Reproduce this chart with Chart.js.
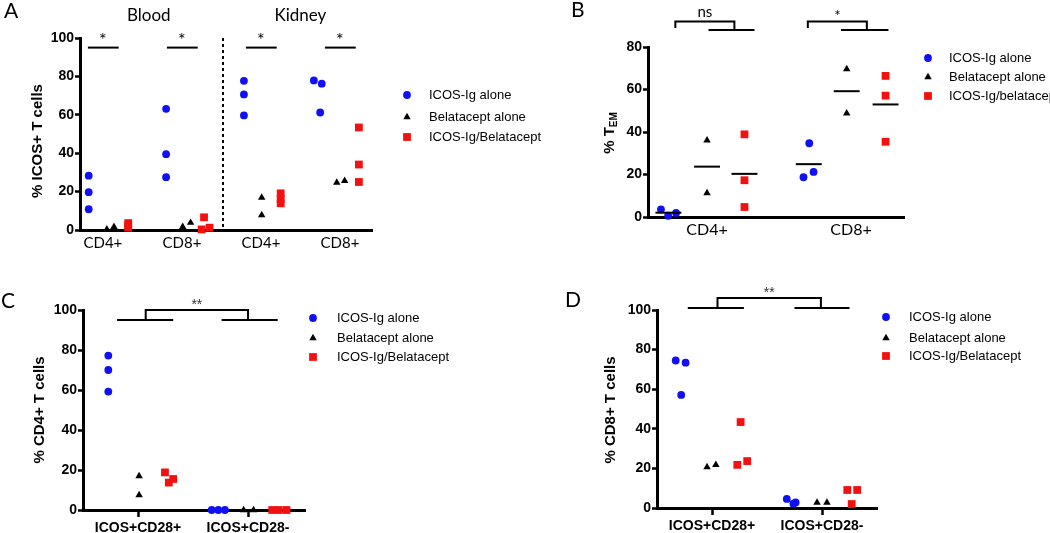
<!DOCTYPE html>
<html>
<head>
<meta charset="utf-8">
<script src="https://cdn.jsdelivr.net/npm/chart.js@4.4.1/dist/chart.umd.min.js"></script>
<style>
  html, body { margin: 0; padding: 0; background: #fff; }
  #wrap { position: relative; width: 1050px; height: 533px; overflow: hidden; }
  canvas { position: absolute; }
</style>
</head>
<body>
<div id="wrap">
  <canvas id="chartB" width="510" height="266" style="left:540px;top:0"></canvas>
  <canvas id="chartA" width="560" height="266" style="left:0;top:0"></canvas>
  <canvas id="chartC" width="540" height="267" style="left:0;top:266px"></canvas>
  <canvas id="chartD" width="510" height="267" style="left:540px;top:266px"></canvas>
</div>
<script>
'use strict';

/* ── Data ────────────────────────────────────────────── */

var groupNames  = ['ICOS-Ig alone', 'Belatacept alone', 'ICOS-Ig/Belatacept'];
var groupNamesB = ['ICOS-Ig alone', 'Belatacept alone', 'ICOS-Ig/belatacept'];

/* A: % ICOS+ T cells — Blood CD4+, Blood CD8+, Kidney CD4+, Kidney CD8+ */
var catsA     = ['CD4+', 'CD8+', 'CD4+', 'CD8+'];
var sectionsA = ['Blood', 'Kidney'];
var icosA     = [[28.3, 19.7, 10.8], [63.1, 39.5, 27.5], [77.7, 70.6, 59.7], [77.9, 76.2, 61.2]];
var belaA     = [[0.3, 1.7], [1.7, 3.8], [16.9, 7.8], [24.7, 25.6]];
var comboA    = [[3.6, 2.4, 1.3], [6.6, 0.3, 1.2], [19.1, 16.2, 13.9], [53.4, 34.1, 25.0]];
var icosJitA  = [[0.02, 0.02, 0.02], [0, 0, 0], [-0.015, -0.015, -0.015], [-0.13, -0.03, -0.05]];
var belaJitA  = [[0, 0.09], [-0.04, 0.06], [-0.04, -0.04], [-0.09, 0.01]];
var comboJitA = [[0.04, 0.04, 0.04], [0, -0.03, 0.07], [-0.03, -0.03, -0.03], [-0.04, -0.04, -0.04]];
var sigA      = ['*', '*', '*', '*'];
var yTicksA   = [0, 20, 40, 60, 80, 100];

/* B: % TEM with group means */
var catsB     = ['CD4+', 'CD8+'];
var icosB     = [[3.6, 0.6, 1.9], [34.7, 18.7, 21.2]];
var belaB     = [[36.1, 11.3], [69.6, 48.8]];
var comboB    = [[38.9, 17.3, 4.7], [66.4, 57.1, 35.4]];
var icosJitB  = [[-0.05, 0, 0.055], [-0.02, -0.06, 0.01]];
var belaJitB  = [[0, 0], [-0.03, -0.03]];
var comboJitB = [[0, 0, 0], [-0.02, -0.02, -0.02]];
var sigB      = ['ns', '*'];
var yTicksB   = [0, 20, 40, 60, 80];

/* C: % CD4+ T cells */
var catsC     = ['ICOS+CD28+', 'ICOS+CD28-'];
var icosC     = [[77.2, 70.0, 59.2], [0, 0, 0]];
var belaC     = [[17.0, 7.5], [0, 0]];
var comboC    = [[18.8, 15.5, 13.7], [0, 0, 0]];
var icosJitC  = [[0, 0, 0], [-0.06, 0, 0.06]];
var belaJitC  = [[0.01, 0.01], [-0.04, 0.05]];
var comboJitC = [[-0.035, 0.04, 0], [-0.06, 0, 0.07]];
var sigC      = '**';

/* D: % CD8+ T cells */
var catsD     = ['ICOS+CD28+', 'ICOS+CD28-'];
var icosD     = [[74.5, 73.4, 57.1], [4.6, 2.2, 2.8]];
var belaD     = [[20.7, 21.8], [2.7, 2.7]];
var comboD    = [[21.8, 23.7, 43.4], [9.1, 9.1, 2.0]];
var icosJitD  = [[-0.05, 0.04, 0], [-0.04, 0.02, 0.04]];
var belaJitD  = [[-0.045, 0.035], [-0.045, 0.045]];
var comboJitD = [[-0.04, 0.05, -0.01], [-0.04, 0.05, 0]];
var sigD      = '**';
var yTicksCD  = [0, 20, 40, 60, 80, 100];

/* ── Styles ──────────────────────────────────────────── */

var COLORS = ['#1010f2', '#000000', '#f21010'];
var SHAPES = ['circle', 'triangle', 'rect'];
var RADII  = [3.9, 4.3, 5.5];

var TICK_FONT  = { family: '"Liberation Sans", Arial', weight: 'bold', size: 14 };
var CAT_BOLD   = { family: '"Liberation Sans", Arial', weight: 'bold', size: 14 };
var CAT_LIGHT  = { family: 'Lato', weight: 'normal', size: 15 };
var CAT_LIGHTB = { family: 'Lato', weight: 'normal', size: 16 };

/* ── Helpers ─────────────────────────────────────────── */

function mean(a) {
  return a.reduce(function (s, v) { return s + v; }, 0) / a.length;
}

function buildSets(values, jitter, offsets) {
  return values.map(function (groupVals, g) {
    var pts = [];
    groupVals.forEach(function (catVals, c) {
      catVals.forEach(function (v, k) {
        pts.push({ x: c + offsets[g] + jitter[g][c][k], y: v });
      });
    });
    return {
      label: groupNames[g],
      data: pts,
      showLine: false,
      clip: false,
      pointStyle: SHAPES[g],
      pointRadius: RADII[g],
      pointHoverRadius: RADII[g],
      pointBackgroundColor: COLORS[g],
      pointBorderWidth: 0,
      pointHoverBorderWidth: 0
    };
  });
}

function marker(ctx, g, x, y) {
  var r = RADII[g];
  ctx.save();
  ctx.fillStyle = COLORS[g];
  ctx.beginPath();
  if (SHAPES[g] === 'circle') {
    ctx.arc(x, y, r, 0, Math.PI * 2);
  } else if (SHAPES[g] === 'triangle') {
    ctx.moveTo(x, y - r);
    ctx.lineTo(x + r * 0.866, y + r / 2);
    ctx.lineTo(x - r * 0.866, y + r / 2);
    ctx.closePath();
  } else {
    var s = r * Math.SQRT1_2;
    ctx.rect(x - s, y - s, 2 * s, 2 * s);
  }
  ctx.fill();
  ctx.restore();
}

function path(ctx, pts, w, dash) {
  ctx.save();
  ctx.strokeStyle = '#000';
  ctx.lineWidth = w;
  ctx.lineCap = 'butt';
  if (dash) ctx.setLineDash(dash);
  ctx.beginPath();
  pts.forEach(function (p, i) { if (i) ctx.lineTo(p[0], p[1]); else ctx.moveTo(p[0], p[1]); });
  ctx.stroke();
  ctx.restore();
}

function text(ctx, str, x, y, font, align, color) {
  ctx.save();
  ctx.font = font;
  ctx.fillStyle = color || '#000';
  ctx.textAlign = align || 'center';
  ctx.textBaseline = 'alphabetic';
  ctx.fillText(str, x, y);
  ctx.restore();
}

function yTitle(ctx, str, sub, x, y) {
  var big = 'bold 15px "Liberation Sans", Arial, sans-serif';
  var small = 'bold 10px "Liberation Sans", Arial, sans-serif';
  ctx.save();
  ctx.translate(x, y);
  ctx.rotate(-Math.PI / 2);
  ctx.fillStyle = '#000';
  ctx.textBaseline = 'middle';
  ctx.textAlign = 'left';
  ctx.font = big;
  var w1 = ctx.measureText(str).width;
  var w2 = 0;
  if (sub) {
    ctx.font = small;
    w2 = ctx.measureText(sub).width;
  }
  var x0 = -(w1 + w2) / 2;
  ctx.font = big;
  ctx.fillText(str, x0, 0);
  if (sub) {
    ctx.font = small;
    ctx.fillText(sub, x0 + w1, 4);
  }
  ctx.restore();
}

function legend(ctx, names, mx, tx, rows) {
  names.forEach(function (n, g) {
    marker(ctx, g, mx, rows[g]);
    ctx.save();
    ctx.font = '13px "Liberation Sans", Arial, sans-serif';
    ctx.fillStyle = '#000';
    ctx.textBaseline = 'middle';
    ctx.textAlign = 'left';
    ctx.fillText(n, tx, rows[g] + 0.5);
    ctx.restore();
  });
}

/* ── Panel factory ───────────────────────────────────── */

function makePanel(p) {
  var canvas = document.getElementById(p.id);
  var W = canvas.width, H = canvas.height;
  return new Chart(canvas, {
    type: 'scatter',
    data: { datasets: buildSets(p.values, p.jitter, p.offsets) },
    options: {
      responsive: false,
      animation: false,
      devicePixelRatio: 1,
      layout: { padding: { left: 0, top: p.area.top, right: W - p.area.right, bottom: 0 } },
      events: [],
      plugins: { legend: { display: false }, tooltip: { enabled: false } },
      scales: {
        x: {
          type: 'linear',
          min: p.xMin,
          max: p.xMax,
          afterBuildTicks: function (s) {
            s.ticks = p.cats.map(function (c, i) { return { value: i }; });
          },
          afterFit: function (s) { s.height = H - p.area.bottom; },
          ticks: {
            autoSkip: false,
            maxRotation: 0,
            padding: p.xPad,
            color: '#000',
            font: p.xFont,
            callback: function (v) { return p.cats[v]; }
          },
          grid: { drawOnChartArea: false, drawTicks: p.xTickMarks, tickLength: 7, tickWidth: 2.5, color: '#000' },
          border: { display: true, color: '#000', width: 3 }
        },
        y: {
          min: 0,
          max: p.yTicks[p.yTicks.length - 1],
          afterBuildTicks: function (s) {
            s.ticks = p.yTicks.map(function (v) { return { value: v }; });
          },
          afterFit: function (s) { s.width = p.area.left; },
          ticks: { padding: 1, color: '#000', font: TICK_FONT, callback: function (v) { return String(v); } },
          grid: { drawOnChartArea: false, drawTicks: true, tickLength: 5, tickWidth: 2.5, color: '#000' },
          border: { display: true, color: '#000', width: 3 }
        }
      }
    },
    plugins: [{
      id: 'extras',
      afterDraw: function (chart) {
        var ctx = chart.ctx;
        var X = function (v) { return chart.scales.x.getPixelForValue(v); };
        var Y = function (v) { return chart.scales.y.getPixelForValue(v); };
        p.draw(ctx, X, Y, chart);
      }
    }]
  });
}

/* ── A ───────────────────────────────────────────────── */

makePanel({
  id: 'chartA',
  area: { left: 80, right: 372, top: 38, bottom: 230 },
  cats: catsA, xMin: -0.29, xMax: 3.406, xPad: 4, xFont: CAT_LIGHT, xTickMarks: false,
  yTicks: yTicksA,
  values: [icosA, belaA, comboA],
  jitter: [icosJitA, belaJitA, comboJitA],
  offsets: [-0.2, 0.05, 0.28],
  draw: function (ctx, X, Y) {
    text(ctx, 'A', 4, 18, '21px Lato, sans-serif', 'left');
    text(ctx, sectionsA[0], X(0.58), 21, '17px Lato, sans-serif');
    text(ctx, sectionsA[1], X(2.5), 21, '17px Lato, sans-serif');
    path(ctx, [[X(1.52), Y(100)], [X(1.52), Y(0)]], 2, [3, 3]);
    sigA.forEach(function (s, c) {
      path(ctx, [[X(c - 0.19), Y(95)], [X(c + 0.2), Y(95)]], 2);
      text(ctx, s, X(c), Y(95) - 2, '18px Lato, sans-serif');
    });
    yTitle(ctx, '% ICOS+ T cells', null, 38, 141);
    legend(ctx, groupNames, 407, 429, [95, 117, 137]);
  }
});

/* ── B ───────────────────────────────────────────────── */

makePanel({
  id: 'chartB',
  area: { left: 108, right: 364, top: 47, bottom: 217 },
  cats: catsB, xMin: -0.41, xMax: 1.368, xPad: 3, xFont: CAT_LIGHTB, xTickMarks: false,
  yTicks: yTicksB,
  values: [icosB, belaB, comboB],
  jitter: [icosJitB, belaJitB, comboJitB],
  offsets: [-0.27, 0, 0.26],
  draw: function (ctx, X, Y) {
    var offsets = [-0.27, 0, 0.26];
    [icosB, belaB, comboB].forEach(function (groupVals, g) {
      var jit = [icosJitB, belaJitB, comboJitB][g];
      groupVals.forEach(function (vals, c) {
        var cx = c + offsets[g] + mean(jit[c]);
        var m = mean(vals);
        path(ctx, [[X(cx - 0.09), Y(m)], [X(cx + 0.09), Y(m)]], 2);
      });
    });
    /* brackets: left leg, top-right corner, lower bar */
    var br = [[-0.22, 0.19, 0.01, 0.33], [-0.3, 0.11, -0.07, 0.26]];
    br.forEach(function (b, c) {
      path(ctx, [[X(c + b[0]), Y(89)], [X(c + b[0]), Y(92)], [X(c + b[1]), Y(92)], [X(c + b[1]), Y(88)]], 2);
      path(ctx, [[X(c + b[2]), Y(88)], [X(c + b[3]), Y(88)]], 2);
      text(ctx, sigB[c], X(c + (b[0] + b[1]) / 2), c === 0 ? Y(94) : Y(92.3), '15px Lato, sans-serif');
    });
    text(ctx, 'B', 31, 17, '21px Lato, sans-serif', 'left');
    yTitle(ctx, '% T', 'EM', 70, 133);
    legend(ctx, groupNamesB, 388, 409, [58, 77, 96]);
  }
});

/* ── C ───────────────────────────────────────────────── */

makePanel({
  id: 'chartC',
  area: { left: 83, right: 305, top: 44, bottom: 244 },
  cats: catsC, xMin: -0.5, xMax: 1.518, xPad: 3, xFont: CAT_BOLD, xTickMarks: true,
  yTicks: yTicksCD,
  values: [icosC, belaC, comboC],
  jitter: [icosJitC, belaJitC, comboJitC],
  offsets: [-0.27, 0, 0.28],
  draw: function (ctx, X, Y) {
    path(ctx, [[X(0.07), Y(95)], [X(0.07), Y(100)], [X(1.0), Y(100)], [X(1.0), Y(95)]], 2);
    path(ctx, [[X(-0.19), Y(95)], [X(0.32), Y(95)]], 2);
    path(ctx, [[X(0.76), Y(95)], [X(1.27), Y(95)]], 2);
    text(ctx, sigC, X(0.535), Y(100) - 1, '14px "Liberation Sans", Arial, sans-serif', 'center', '#333');
    text(ctx, 'C', 1, 42, '21px Lato, sans-serif', 'left');
    yTitle(ctx, '% CD4+ T cells', null, 40, 144);
    legend(ctx, groupNames, 313, 337, [52, 72, 91]);
  }
});

/* ── D ───────────────────────────────────────────────── */

makePanel({
  id: 'chartD',
  area: { left: 117, right: 337, top: 44, bottom: 242 },
  cats: catsD, xMin: -0.5, xMax: 1.5, xPad: 3, xFont: CAT_BOLD, xTickMarks: true,
  yTicks: yTicksCD,
  values: [icosD, belaD, comboD],
  jitter: [icosJitD, belaJitD, comboJitD],
  offsets: [-0.28, 0, 0.27],
  draw: function (ctx, X, Y) {
    path(ctx, [[X(0.05), Y(101)], [X(0.05), Y(106)], [X(0.99), Y(106)], [X(0.99), Y(101)]], 2);
    path(ctx, [[X(-0.22), Y(101)], [X(0.29), Y(101)]], 2);
    path(ctx, [[X(0.75), Y(101)], [X(1.25), Y(101)]], 2);
    text(ctx, sigD, X(0.52), Y(106) - 1, '14px "Liberation Sans", Arial, sans-serif', 'center', '#333');
    text(ctx, 'D', 25, 41, '21px Lato, sans-serif', 'left');
    yTitle(ctx, '% CD8+ T cells', null, 71, 144);
    legend(ctx, groupNames, 346, 369, [51, 72, 90]);
  }
});
</script>
</body>
</html>
